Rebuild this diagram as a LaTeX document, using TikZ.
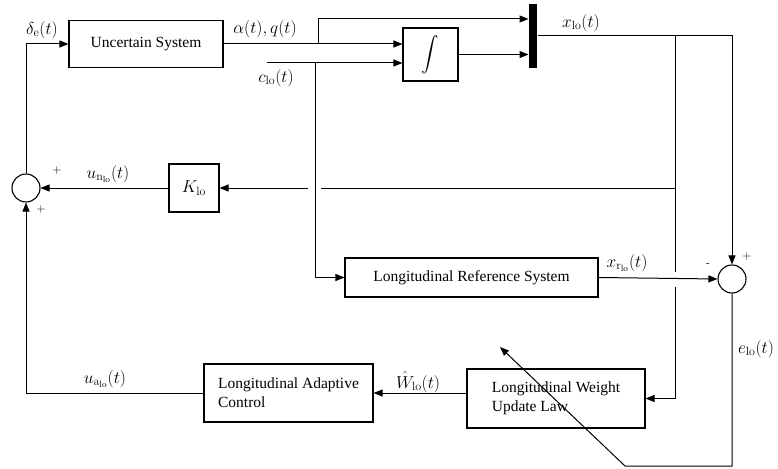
\documentclass[tikz,border=0pt]{standalone}
\usepackage{amsmath}
\usepackage[no-math]{fontspec}
\setmainfont{Liberation Serif}
\usetikzlibrary{arrows.meta}

\begin{document}
\begin{tikzpicture}[x=1pt,y=-1pt,line width=1pt,
    every node/.style={font=\fontsize{15.5}{19}\selectfont},
    blk/.style={draw,line width=1.1pt,inner sep=0pt},
    sig/.style={font=\fontsize{18}{21}\selectfont,inner sep=1pt},
    sumnode/.style={draw,circle,line width=1.1pt,minimum size=28pt,inner sep=0pt},
    sgn/.style={font=\sffamily\fontsize{12}{13}\selectfont},
    >={Triangle[length=9pt,width=7pt]}]
        \useasboundingbox (0,0) rectangle (778,468);

        \path
        (146,44) node[blk,minimum width=154pt,minimum height=47pt] (sys) {Uncertain System}
        (430.5,54.5) node[blk,sig,minimum width=55pt,minimum height=53pt] (intg) {$\displaystyle\int$}
        (533,36) node[fill,minimum width=8pt,minimum height=64pt,inner sep=0pt] (mux) {}
        ;

        \path
        (26,188) node[sumnode] (sumL) {}
        (194,188) node[blk,sig,minimum width=50pt,minimum height=48pt] (kgain) {$K_{\mathrm{lo}}$}
        (471.5,277.5) node[blk,minimum width=253pt,minimum height=39pt] (ref) {Longitudinal Reference System}
        (732,279) node[sumnode] (sumR) {}
        ;

        \path
        (288.5,393) node[blk,minimum width=169pt,minimum height=58pt,align=left] (adapt) {Longitudinal Adaptive\\Control}
        (556,398.5) node[blk,minimum width=178pt,minimum height=59pt,align=left] (wupd) {Longitudinal Weight\\Update Law}
        ;

        % signal labels
        \path
        (42,30) node[sig] (ldelta) {$\delta_{\mathrm{e}}(t)$}
        (265,29) node[sig] (lalpha) {$\alpha(t),q(t)$}
        (276,78) node[sig] (lclo) {$c_{\mathrm{lo}}(t)$}
        (581,23) node[sig] (lxlo) {$x_{\mathrm{lo}}(t)$}
        (108,174) node[sig] (lun) {$u_{\mathrm{n}_{\mathrm{lo}}}(t)$}
        (627,263) node[sig] (lxr) {$x_{\mathrm{r}_{\mathrm{lo}}}(t)$}
        (105,379) node[sig] (lua) {$u_{\mathrm{a}_{\mathrm{lo}}}(t)$}
        (418,382) node[sig] (lW) {$\hat{W}_{\mathrm{lo}}(t)$}
        (756,349) node[sig] (lelo) {$e_{\mathrm{lo}}(t)$}
        ;
        \path
        (57,171) node[sgn] (pa) {+}
        (41,210) node[sgn] (pb) {+}
        (747,257) node[sgn] (pc) {+}
        (708,265) node[sgn] (mc) {-}
        ;

        % forward path
        \draw[->] (sumL.north) |- (sys.west);
        \draw[->] (sys.east) -- (intg.west |- sys.east);
        \coordinate (tapa) at (318,44);
        \coordinate (tapb) at (318,19);
        \draw[->] (tapa) -- (tapb) -- (mux.west |- tapb);
        \coordinate (cin) at (267,63);
        \coordinate (tapc) at (315,63);
        \draw[->] (cin) -- (intg.west |- cin);
        \draw[->] (tapc) |- (ref.west);
        \draw[->] (intg.east) -- (mux.west |- intg.east);
        \draw[->] (mux.east) -| (sumR.north);

        % state feedback
        \coordinate (tapx) at (675,36);
        \coordinate (gapt) at (675,272);
        \coordinate (gapb) at (675,287);
        \draw (tapx) -- (gapt);
        \draw[->] (gapb) |- (wupd.east);
        \coordinate (kr) at (675,188);
        \coordinate (gapr) at (321,188);
        \coordinate (gapl) at (308,188);
        \draw (kr) -- (gapr);
        \draw[->] (gapl) -- (kgain.east);
        \draw[->] (kgain.west) -- (sumL.east);

        % adaptive path
        \draw[->] (ref.east) -- (sumR.west);
        \coordinate (eb) at (732,466);
        \coordinate (ec) at (625,466);
        \coordinate (etip) at (500,347);
        \draw[->] (sumR.south) -- (eb) -- (ec) -- (etip);
        \draw[->] (wupd.west |- adapt.east) -- (adapt.east);
        \draw[->] (adapt.west) -| (sumL.south);
      \end{tikzpicture}
\end{document}
